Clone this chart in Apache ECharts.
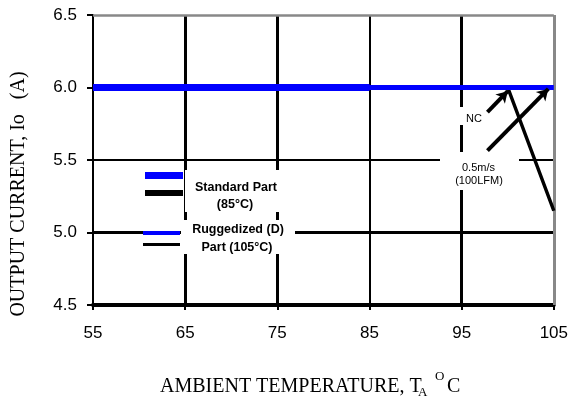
<!DOCTYPE html>
<html><head><meta charset="utf-8">
<script src="https://cdn.jsdelivr.net/npm/echarts@6/dist/echarts.min.js"></script>
<style>html,body{margin:0;padding:0;background:#fff}#c{width:571px;height:400px}</style>
</head><body><div id="c"></div>
<script>
// ---- data ----
const xTicks = [55, 65, 75, 85, 95, 105];
const yTicks = [4.5, 5.0, 5.5, 6.0, 6.5];
const stdBlue = [[55, 6.0], [85, 6.0]];          // Standard Part, 0.5m/s
const stdBlack = [[55, 6.0], [85, 6.0]];         // Standard Part, NC
const rugBlue = [[55, 6.0], [105, 6.0]];         // Ruggedized, 0.5m/s
const rugBlack = [[55, 6.0], [100, 6.0], [105, 5.15]]; // Ruggedized, NC
const ncArrow = [[97.8, 5.83], [100, 5.975]];
const lfmArrow = [[97.8, 5.565], [104.4, 5.99]];
const legendLabels = ['Standard Part', '(85°C)', 'Ruggedized (D)', 'Part (105°C)'];
const noteLabels = ['NC', '0.5m/s', '(100LFM)'];

// ---- styles ----
const vWidth = {65: 3, 75: 3, 85: 2, 95: 3};
const hWidth = {5.0: 3, 5.5: 2, 6.0: 3};
const SANS = "'Liberation Sans', Arial, sans-serif";
const SERIF = "'Liberation Serif', 'Times New Roman', serif";

const gridLines = [];
xTicks.slice(1, -1).forEach(v => gridLines.push({xAxis: v, lineStyle: {width: vWidth[v], color: '#000', type: 'solid'}}));
yTicks.slice(1, -1).forEach(v => gridLines.push({yAxis: v, lineStyle: {width: hWidth[v], color: '#000', type: 'solid'}}));
gridLines.push({xAxis: xTicks[xTicks.length - 1], lineStyle: {width: 3, color: '#888', type: 'solid'}});
gridLines.push({yAxis: yTicks[yTicks.length - 1], lineStyle: {width: 2.5, color: '#888', type: 'solid'}});

const chart = echarts.init(document.getElementById('c'), null, {renderer: 'canvas'});

function box(x, y, w, h) {
  return {type: 'rect', z: 2, silent: true, shape: {x, y, width: w, height: h}, style: {fill: '#fff'}};
}
function txt(t, x, y, size, weight, align) {
  return {type: 'text', z: 6, silent: true, x, y,
    style: {text: t, fill: '#000', font: (weight || 'normal') + ' ' + size + 'px ' + SANS,
      align: align || 'center', verticalAlign: 'middle'}};
}
function sw(x1, x2, y, w, c) {
  return {type: 'line', z: 6, silent: true, shape: {x1, y1: y, x2, y2: y}, style: {stroke: c, lineWidth: w}};
}
function serif(t, x, y, size) {
  return {type: 'text', z: 6, silent: true, x, y,
    style: {text: t, fill: '#000', font: 'normal ' + size + 'px ' + SERIF, align: 'left', verticalAlign: 'middle'}};
}

const option = {
  animation: false,
  backgroundColor: '#fff',
  grid: {left: 93, right: 17, top: 15, bottom: 95, containLabel: false},
  xAxis: {
    type: 'value', min: 55, max: 105,
    axisLine: {show: true, onZero: false, lineStyle: {color: '#000', width: 4}},
    axisTick: {show: true, customValues: xTicks, length: 5, lineStyle: {color: '#000', width: 2}},
    axisLabel: {customValues: xTicks, margin: 20, color: '#000', fontSize: 17, fontFamily: SANS},
    splitLine: {show: false}
  },
  yAxis: {
    type: 'value', min: 4.5, max: 6.5, interval: 0.5,
    axisLine: {show: true, onZero: false, lineStyle: {color: '#000', width: 2}},
    axisTick: {show: true, length: 6, lineStyle: {color: '#000', width: 2}},
    axisLabel: {margin: 16, color: '#000', fontSize: 17, fontFamily: SANS,
      formatter: v => v.toFixed(1)},
    splitLine: {show: false}
  },
  series: [
    {type: 'line', name: 'grid', z: 1, data: [], silent: true,
      markLine: {z: 1, silent: true, symbol: 'none', label: {show: false}, animation: false, data: gridLines}},
    {type: 'line', name: 'Standard NC', z: 3, data: stdBlack, showSymbol: false, symbol: 'none',
      lineStyle: {color: '#000', width: 6}},
    {type: 'line', name: 'Ruggedized NC', z: 3, data: rugBlack, showSymbol: false, symbol: 'none',
      lineStyle: {color: '#000', width: 3.5}},
    {type: 'line', name: 'Standard 0.5m/s', z: 4, data: stdBlue, showSymbol: false, symbol: 'none',
      lineStyle: {color: '#0000ff', width: 7}},
    {type: 'line', name: 'Ruggedized 0.5m/s', z: 4, data: rugBlue, showSymbol: false, symbol: 'none',
      lineStyle: {color: '#0000ff', width: 5}},
    {type: 'line', name: 'arrows', z: 5, data: [], silent: true,
      markLine: {z: 5, silent: true, symbol: ['none', 'arrow'], symbolSize: [10, 11], label: {show: false}, animation: false,
        lineStyle: {color: '#000', width: 4, type: 'solid'},
        data: [
          [{coord: ncArrow[0]}, {coord: ncArrow[1]}],
          [{coord: lfmArrow[0]}, {coord: lfmArrow[1]}]
        ]}}
  ],
  graphic: [
    // white boxes behind annotation text
    box(185, 170, 107, 42),
    box(181, 220, 114, 34),
    box(455, 107, 40, 18),
    box(440, 152, 79, 38),
    // legend swatches
    sw(145, 183, 175.5, 7, '#0000ff'),
    sw(145, 183, 193, 6, '#000'),
    sw(143, 180, 233, 4, '#0000ff'),
    sw(143, 180, 244.5, 3, '#000'),
    // legend text
    txt(legendLabels[0], 236, 188, 12.5, 'bold'),
    txt(legendLabels[1], 235, 205, 12.5, 'bold'),
    txt(legendLabels[2], 238, 230, 12.5, 'bold'),
    txt(legendLabels[3], 237, 248, 12.5, 'bold'),
    // notes
    txt(noteLabels[0], 474, 118.5, 11),
    txt(noteLabels[1], 478.5, 167.5, 11),
    txt(noteLabels[2], 479, 180.5, 11),
    // x axis title
    serif('AMBIENT TEMPERATURE, T', 160, 386.5, 20),
    serif('A', 418, 393, 13),
    serif('O', 435, 377, 13),
    serif('C', 447, 386.5, 20),
    // y axis title
    {type: 'text', z: 6, silent: true, x: 18.5, y: 194, rotation: Math.PI / 2,
      style: {text: 'OUTPUT CURRENT, Io   (A)', fill: '#000', font: 'normal 20px ' + SERIF, align: 'center', verticalAlign: 'middle'}}
  ]
};
chart.setOption(option);
</script>
</body></html>
